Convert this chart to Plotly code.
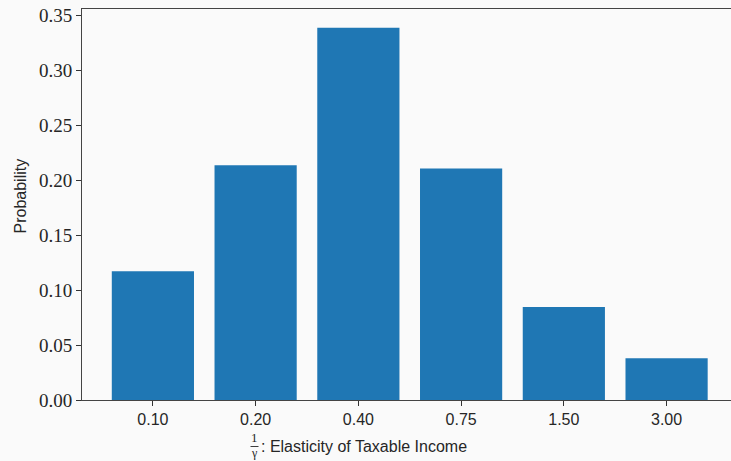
import plotly.graph_objects as go

# Distribution of the taxable-income elasticity 1/gamma
elasticity_labels = ["0.10", "0.20", "0.40", "0.75", "1.50", "3.00"]
probability = [0.117, 0.2135, 0.3385, 0.2105, 0.0845, 0.038]
y_ticks = [0.00, 0.05, 0.10, 0.15, 0.20, 0.25, 0.30, 0.35]

W, H = 731, 461
L, R, T, B = 82, 0, 9, 61
BG = "#fafafa"
INK = "#262626"
SANS = "Liberation Sans, Arial, sans-serif"
SERIF = "Liberation Serif, Times New Roman, serif"

pw, ph = W - L - R, H - T - B


def px(x):
    return (x - L) / pw


def py(y):
    return (H - B - y) / ph


fig = go.Figure(
    go.Bar(
        x=list(range(len(elasticity_labels))),
        y=probability,
        marker=dict(color="#1f77b4", line=dict(width=0)),
        width=0.8,
    )
)

fig.update_layout(
    width=W,
    height=H,
    margin=dict(l=L, r=R, t=T, b=B),
    paper_bgcolor=BG,
    plot_bgcolor=BG,
    showlegend=False,
    xaxis=dict(
        range=[-0.69, 5.627],
        tickmode="array",
        tickvals=list(range(len(elasticity_labels))),
        ticktext=elasticity_labels,
        ticks="outside",
        ticklen=5,
        tickwidth=1,
        tickcolor="#333333",
        showline=True,
        linecolor="#444444",
        linewidth=1,
        mirror=True,
        showgrid=False,
        zeroline=False,
        tickfont=dict(family=SANS, size=16, color=INK),
    ),
    yaxis=dict(
        range=[0, 0.3555],
        tickmode="array",
        tickvals=y_ticks,
        ticktext=[f"{v:.2f}" for v in y_ticks],
        ticks="outside",
        ticklen=5,
        tickwidth=1,
        tickcolor="#333333",
        showline=True,
        linecolor="#444444",
        linewidth=1,
        showgrid=False,
        zeroline=False,
        tickfont=dict(family=SERIF, size=19, color=INK),
    ),
)

annotations = [
    # y-axis title
    dict(text="Probability", x=px(19.5), y=py(196), textangle=-90,
         font=dict(family=SANS, size=16, color=INK)),
    # x-axis title: fraction 1/gamma followed by the description
    dict(text="1", x=px(254.5), y=py(438),
         font=dict(family=SERIF, size=13, color=INK)),
    dict(text="γ", x=px(254.5), y=py(452.5),
         font=dict(family=SERIF, size=12, color=INK)),
    dict(text=": Elasticity of Taxable Income", x=px(259), y=py(446),
         xanchor="left", font=dict(family=SANS, size=16, color=INK)),
]
for a in annotations:
    a.setdefault("xanchor", "center")
    a.update(xref="paper", yref="paper", yanchor="middle", showarrow=False)
fig.update_layout(annotations=annotations)

fig.add_shape(type="line", xref="paper", yref="paper",
              x0=px(250.5), x1=px(258.5), y0=py(446.5), y1=py(446.5),
              line=dict(color=INK, width=0.9))

fig.write_html("out.html")
